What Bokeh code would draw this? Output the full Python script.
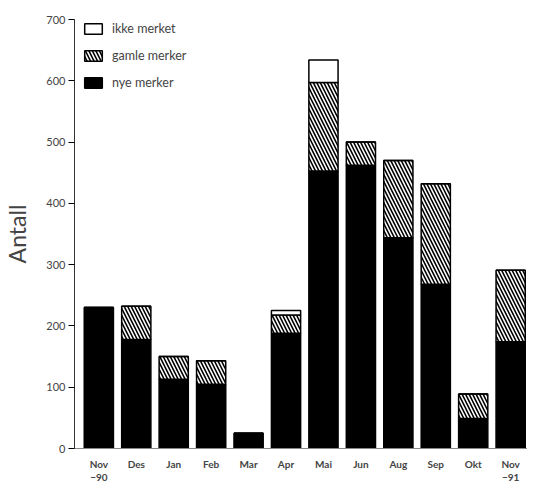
from bokeh.plotting import figure
from bokeh.models import ColumnDataSource, Range1d, Legend, LegendItem, FixedTicker, LinearAxis
from bokeh.embed import file_html
from bokeh.resources import INLINE

months = ["Nov", "Des", "Jan", "Feb", "Mar", "Apr", "Mai", "Jun", "Aug", "Sep", "Okt", "Nov"]
years = {0: "\u221290", 11: "\u221291"}
nye = [230, 178, 113, 105, 25, 188, 453, 462, 344, 268, 49, 174]
gamle = [0, 54, 37, 38, 0, 30, 144, 38, 126, 164, 40, 117]
ikke = [0, 0, 0, 0, 0, 7, 37, 0, 0, 0, 0, 0]
y_ticks = [0, 100, 200, 300, 400, 500, 600, 700]

x = list(range(len(months)))
src = ColumnDataSource(dict(x=x, nye=nye, gamle=gamle, ikke=ikke))

FONT = "Lato"

p = figure(width=527, height=483, output_backend="svg", toolbar_location=None,
           x_range=Range1d(-0.65, 11.45), y_range=Range1d(0, 700),
           x_axis_location=None,
           min_border_left=70, min_border_right=0, min_border_top=19, min_border_bottom=30)
p.outline_line_color = None
p.xgrid.grid_line_color = None
p.ygrid.grid_line_color = None
p.background_fill_color = "white"

rs = p.vbar_stack(["nye", "gamle", "ikke"], x="x", width=0.78, source=src,
                  fill_color=["black", "white", "white"],
                  line_color="black", line_width=1.5,
                  hatch_pattern=[" ", "\\", " "],
                  hatch_color="black", hatch_scale=7, hatch_weight=1.6)

legend = Legend(items=[LegendItem(label="ikke merket", renderers=[rs[2]]),
                       LegendItem(label="gamle merker", renderers=[rs[1]]),
                       LegendItem(label="nye merker", renderers=[rs[0]])],
                location=(8, 358), orientation="vertical",
                glyph_width=22, glyph_height=13, label_height=14, spacing=12,
                padding=0, margin=0, border_line_color=None, background_fill_alpha=0,
                label_text_font=FONT, label_text_font_size="12.5px", label_standoff=8)
p.add_layout(legend, "center")

p.yaxis.ticker = FixedTicker(ticks=y_ticks)
p.yaxis.minor_tick_line_color = None
p.yaxis.major_tick_out = 6
p.yaxis.major_tick_in = 0
p.yaxis.axis_line_color = "#333333"
p.yaxis.major_label_text_font = FONT
p.yaxis.major_label_text_font_size = "11px"
p.yaxis.major_label_standoff = 3
p.yaxis.axis_label = "Antall"
p.yaxis.axis_label_text_font = FONT
p.yaxis.axis_label_text_font_style = "normal"
p.yaxis.axis_label_text_font_size = "23px"
p.yaxis.axis_label_text_color = "#444444"
p.yaxis.axis_label_standoff = 12

xa = LinearAxis(ticker=FixedTicker(ticks=x),
                major_label_overrides={i: m for i, m in enumerate(months)},
                major_tick_line_color=None, minor_tick_line_color=None,
                axis_line_color="#888888",
                major_label_text_font=FONT, major_label_text_font_size="10px",
                major_label_text_font_style="bold",
                major_label_standoff=3)
ya = LinearAxis(ticker=FixedTicker(ticks=list(years.keys())),
                major_label_overrides=years,
                major_tick_line_color=None, minor_tick_line_color=None,
                axis_line_color=None,
                major_label_text_font=FONT, major_label_text_font_size="10px",
                major_label_text_font_style="bold",
                major_label_standoff=-5)
p.add_layout(xa, "below")
p.add_layout(ya, "below")

open("out.html", "w").write(file_html(p, INLINE))
